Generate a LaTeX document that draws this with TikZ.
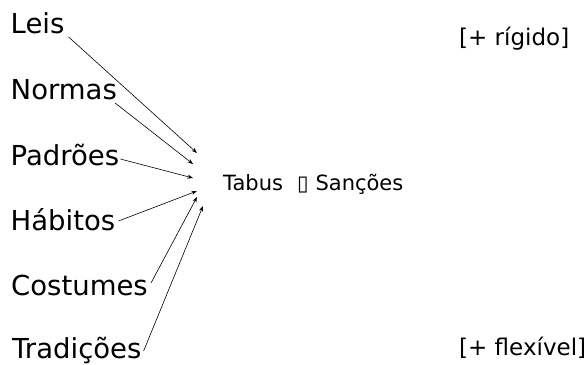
\documentclass[tikz,border=0pt]{standalone}
\usepackage{fontspec}
\setmainfont{DejaVu Sans}
\usetikzlibrary{arrows.meta}
\begin{document}
\begin{tikzpicture}[x=1pt,y=-1pt,anchor=base west,inner sep=0pt,
  big/.style={font=\fontsize{27.5}{30}\selectfont},
  mid/.style={font=\fontsize{21}{24}\selectfont},
  side/.style={font=\fontsize{23}{26}\selectfont},
  seta/.style={-{Stealth[length=5.5pt,width=4pt]},line width=0.6pt}]
	\useasboundingbox (0,0) rectangle (588,364);
	% pontas das setas
	\node [coordinate] (tLeis) at (197,153) {};
	\node [coordinate] (tNormas) at (193,164) {};
	\node [coordinate] (tPadroes) at (193,178) {};
	\node [coordinate] (tHabitos) at (197,191) {};
	\node [coordinate] (tCostumes) at (197,197) {};
	\node [coordinate] (tTradicoes) at (203,206) {};
	% textos
	\node [big] (leis) at (10.5,33) {Leis};
	\node [big] (normas) at (10.5,99) {Normas};
	\node [big] (padroes) at (10.5,165) {Padrões};
	\node [big] (habitos) at (10.5,230) {Hábitos};
	\node [big] (costumes) at (11,295) {Costumes};
	\node [big] (tradicoes) at (12,358) {Tradições};
	\node [mid] (tabus) at (223,190)
	  {Tabus\hspace{14pt}{\fontsize{21}{21}\selectfont ▯}\hspace{7pt}Sanções};
	\node [side] (rigido) at (459,45) {[+ rígido]};
	\node [side] (flexivel) at (459,355) {[+ flexível]};
	% setas
	\draw [seta] ([shift={(4,4)}]leis.base east) -- (tLeis);
	\draw [seta] ([shift={(-2,4)}]normas.base east) -- (tNormas);
	\draw [seta] ([shift={(1,-6)}]padroes.base east) -- (tPadroes);
	\draw [seta] ([shift={(3,-9)}]habitos.base east) -- (tHabitos);
	\draw [seta] ([shift={(3,-12)}]costumes.base east) -- (tCostumes);
	\draw [seta] ([shift={(2,-7)}]tradicoes.base east) -- (tTradicoes);
\end{tikzpicture}
\end{document}
